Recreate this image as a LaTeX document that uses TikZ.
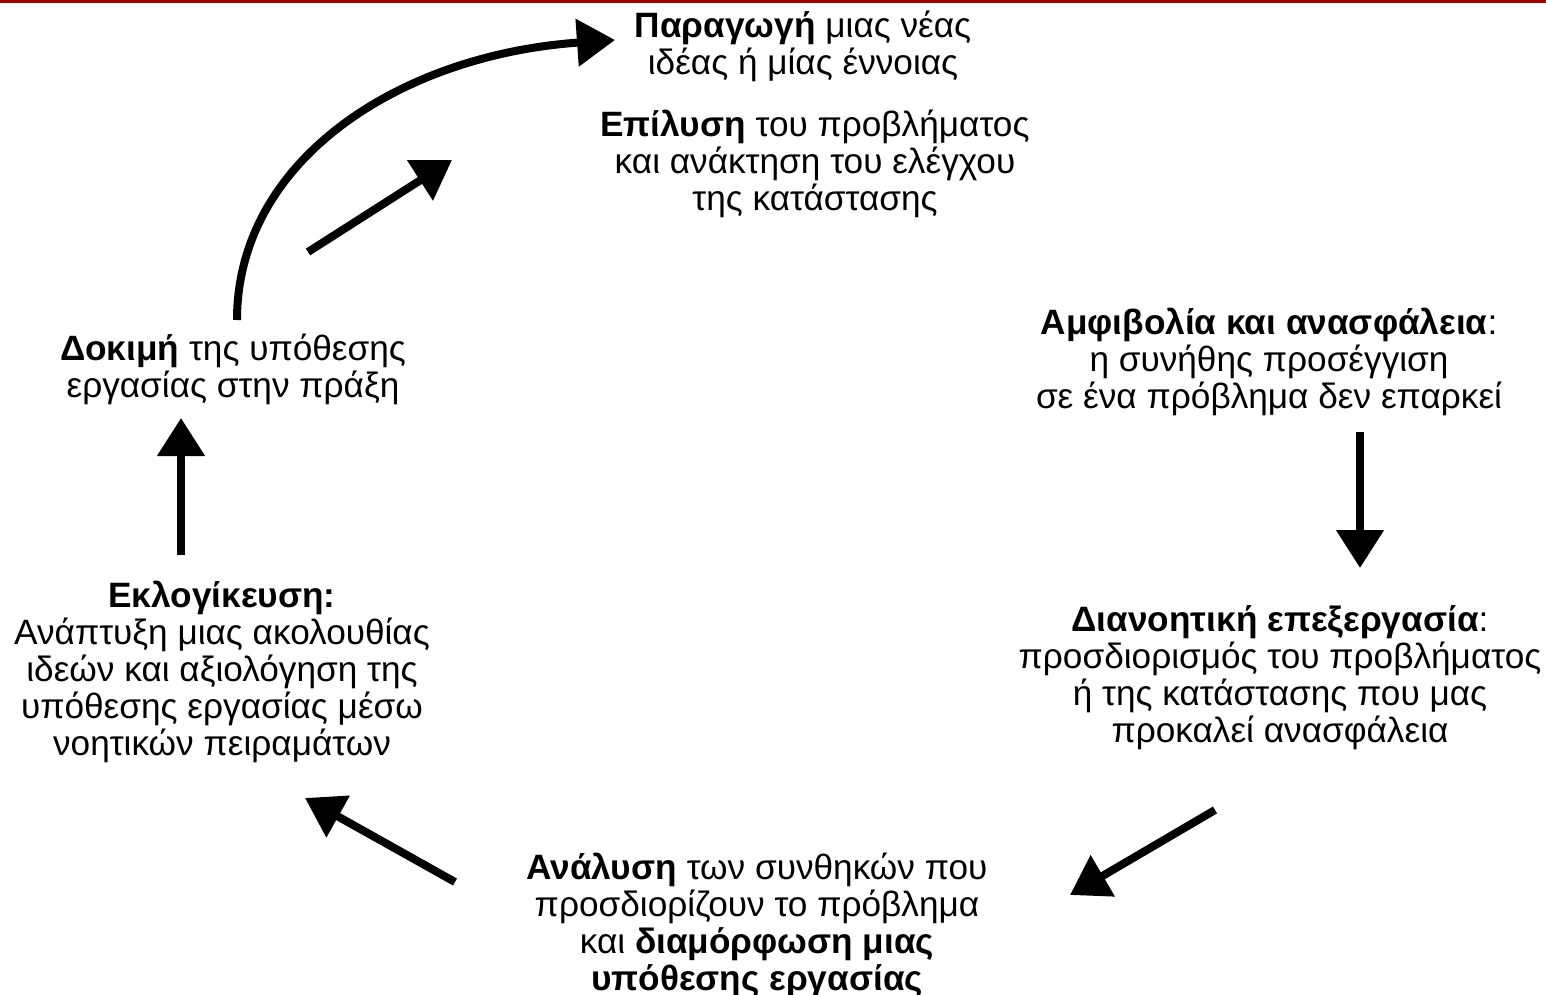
\documentclass[tikz,border=0pt]{standalone}
\usepackage{fontspec}
\setmainfont{Liberation Sans}
\usetikzlibrary{arrows.meta}

\tikzset{
  stage/.style={align=center, inner sep=0pt, font=\fontsize{17.6}{18.5}\selectfont},
  flow/.style={line width=4pt, -{Triangle[length=19pt,width=23pt]}},
}

\begin{document}
\begin{tikzpicture}[x=0.5pt,y=-0.5pt]
    \useasboundingbox (0,0) rectangle (1546,995);

    % thin rule on top of the slide
    \fill[red!65!black] (0,0) rectangle (1546,3);

    % Stages of the cycle
    \node[stage] (idea) at (803,46) {\textbf{Παραγωγή} μιας νέας\\ιδέας ή μίας έννοιας};
    \node[stage] (solve) at (815,164) {\textbf{Επίλυση} του προβλήματος\\και ανάκτηση του ελέγχου\\της κατάστασης};
    \node[stage] (doubt) at (1269,362) {\textbf{Αμφιβολία και ανασφάλεια}:\\η συνήθης προσέγγιση\\σε ένα πρόβλημα δεν επαρκεί};
    \node[stage] (think) at (1280,678) {\textbf{Διανοητική επεξεργασία}:\\προσδιορισμός του προβλήματος\\ή της κατάστασης που μας\\προκαλεί ανασφάλεια};
    \node[stage] (analyse) at (757,925) {\textbf{Ανάλυση} των συνθηκών που\\προσδιορίζουν το πρόβλημα\\και \textbf{διαμόρφωση μιας}\\\textbf{υπόθεσης εργασίας}};
    \node[stage] (reason) at (222,672) {\textbf{Εκλογίκευση:}\\Ανάπτυξη μιας ακολουθίας\\ιδεών και αξιολόγηση της\\υπόθεσης εργασίας μέσω\\νοητικών πειραμάτων};
    \node[stage] (test) at (233,369) {\textbf{Δοκιμή} της υπόθεσης\\εργασίας στην πράξη};

    % Arrow ends
    \coordinate (a1) at (1360,432);  \coordinate (b1) at (1360,568);
    \coordinate (a2) at (1215,810);  \coordinate (b2) at (1070,895);
    \coordinate (a3) at (455,882);   \coordinate (b3) at (305,798);
    \coordinate (a4) at (181,555);   \coordinate (b4) at (181,418);
    \coordinate (a5) at (308,252);   \coordinate (b5) at (452,160);
    \coordinate (a6) at (237,320);   \coordinate (b6) at (615,40);

    % Straight arrows round the cycle
    \foreach \i in {1,...,5}
        \draw[flow] (a\i) -- (b\i);

    % Curved arrow from testing back to a new idea
    \draw[flow] (a6) .. controls (237,160) and (400,55) .. (b6);

\end{tikzpicture}
\end{document}
